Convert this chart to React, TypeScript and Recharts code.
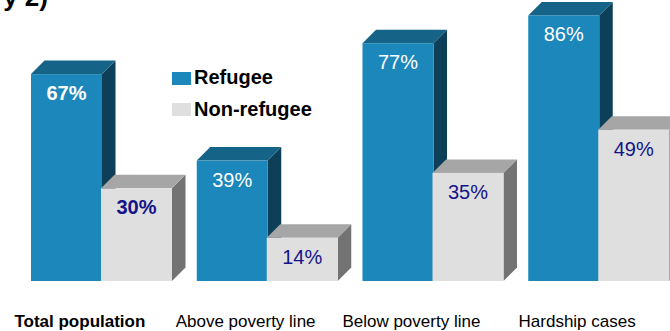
import React from "react";
import { BarChart, Bar, XAxis, YAxis, Legend, LabelList } from "recharts";

const categories = ["Total population", "Above poverty line", "Below poverty line", "Hardship cases"];
const refugee = [67, 39, 77, 86];
const nonRefugee = [30, 14, 35, 49];
const boldCategory = [true, false, false, false];
const titleFragment = "y 2)";

const data = categories.map((c, i) => ({
  name: c,
  refugee: refugee[i],
  nonRefugee: nonRefugee[i],
  bold: boldCategory[i],
}));

const FONT = "'Liberation Sans', Arial, Helvetica, sans-serif";
const DEPTH = 13.5;

const COLORS = {
  refugee: { front: "#1B87BA", top: "#156488", side: "#0D3F58", label: "#FFFFFF" },
  nonRefugee: { front: "#DFDFDF", top: "#A6A6A6", side: "#737373", label: "#141489" },
};

type Pal = { front: string; top: string; side: string; label: string };

const make3D = (pal: Pal) => (props: any) => {
  const { x, y, width, height } = props;
  if (width == null || height == null) return null;
  const d = DEPTH;
  const w = width;
  const h = height;
  const top = `${x},${y} ${x + d},${y - d} ${x + w + d},${y - d} ${x + w},${y}`;
  const side = `${x + w},${y} ${x + w + d},${y - d} ${x + w + d},${y + h - d} ${x + w},${y + h}`;
  return (
    <g>
      <polygon points={side} fill={pal.side} />
      <polygon points={top} fill={pal.top} />
      <rect x={x} y={y} width={w} height={h} fill={pal.front} />
    </g>
  );
};

const makeLabel = (pal: Pal) => (props: any) => {
  const { x, y, width, value, index } = props;
  const bold = boldCategory[index];
  return (
    <text
      x={x + width / 2}
      y={y + 26}
      textAnchor="middle"
      fill={pal.label}
      fontFamily={FONT}
      fontSize={20}
      fontWeight={bold ? "bold" : "normal"}
    >
      {`${value}%`}
    </text>
  );
};

const CategoryTick = (props: any) => {
  const { x, y, payload, index } = props;
  const bold = boldCategory[index];
  return (
    <text
      x={x - 22}
      y={y + 38}
      textAnchor="middle"
      fill="#000"
      fontFamily={FONT}
      fontSize={17}
      fontWeight={bold ? "bold" : "normal"}
    >
      {payload.value}
    </text>
  );
};

const LegendContent = () => (
  <svg width={170} height={60} style={{ display: "block" }}>
    <rect x={7} y={10} width={19} height={13} fill={COLORS.refugee.front} />
    <text x={29} y={22} fontFamily={FONT} fontSize={20} fontWeight="bold" fill="#000">
      Refugee
    </text>
    <rect x={7} y={41} width={19} height={13} fill={COLORS.nonRefugee.front} />
    <text x={29} y={54} fontFamily={FONT} fontSize={20} fontWeight="bold" fill="#000">
      Non-refugee
    </text>
  </svg>
);

export default function App() {
  return (
    <div
      style={{
        position: "fixed",
        left: 0,
        top: 0,
        width: 670,
        height: 331,
        overflow: "hidden",
        background: "#fff",
      }}
    >
      <svg
        width={200}
        height={20}
        style={{ position: "absolute", left: 0, top: 0, zIndex: 2 }}
      >
        <text x={48} y={6} textAnchor="end" fontFamily={FONT} fontSize={26} fontWeight="bold" fill="#000">
          {titleFragment}
        </text>
      </svg>
      <BarChart
        width={700}
        height={331}
        data={data}
        margin={{ top: 0, right: 18, left: 19, bottom: 0 }}
        barGap={-1}
        barSize={71}
      >
        <XAxis
          dataKey="name"
          axisLine={false}
          tickLine={false}
          height={50}
          interval={0}
          tick={<CategoryTick />}
        />
        <YAxis hide domain={[0, 91]} />
        <Legend
          layout="vertical"
          align="center"
          verticalAlign="middle"
          wrapperStyle={{ left: 165, top: 62, width: 170 }}
          content={<LegendContent />}
        />
        <Bar
          dataKey="refugee"
          name="Refugee"
          isAnimationActive={false}
          shape={make3D(COLORS.refugee)}
        >
          <LabelList dataKey="refugee" content={makeLabel(COLORS.refugee)} />
        </Bar>
        <Bar
          dataKey="nonRefugee"
          name="Non-refugee"
          isAnimationActive={false}
          shape={make3D(COLORS.nonRefugee)}
        >
          <LabelList dataKey="nonRefugee" content={makeLabel(COLORS.nonRefugee)} />
        </Bar>
      </BarChart>
    </div>
  );
}
